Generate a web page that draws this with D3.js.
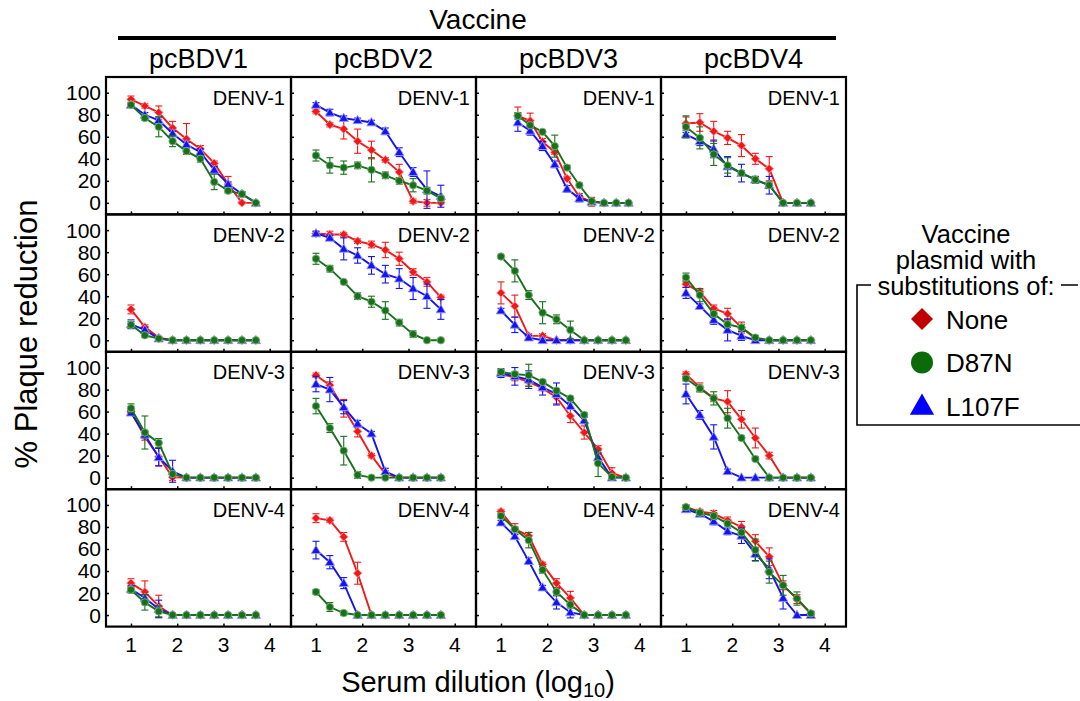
<!DOCTYPE html>
<html>
<head>
<meta charset="utf-8">
<script src="https://cdn.jsdelivr.net/npm/d3@7/dist/d3.min.js"></script>
<style>
  body { margin: 0; background: #fff; }
  text { font-family: "Liberation Sans", Arial, sans-serif; fill: #000; }
</style>
</head>
<body>
<div id="chart"></div>
<script>
// columns = vaccine, rows = challenge virus
const vaccines = ["pcBDV1", "pcBDV2", "pcBDV3", "pcBDV4"]
const viruses = ["DENV-1", "DENV-2", "DENV-3", "DENV-4"]
const dilutions = [1.0, 1.3, 1.6, 1.9, 2.2, 2.5, 2.8, 3.1, 3.4, 3.7]
const xTicks = [1, 2, 3, 4]
const yTicks = [0, 20, 40, 60, 80, 100]
const seriesNames = ["None", "D87N", "L107F"]

// % plaque reduction, indexed [virus][vaccine][dilution]
const noneMean = [
  [[94, 88, 82, 68, 58, 49, 36, 17, 0, 0], [83, 71, 67, 56, 48, 39, 28, 1.5, 0, 0], [79, 74.5, 55.5, 46, 22, 5.5, 1, 0, 0, 0], [72, 73, 65, 59, 52, 40, 31, 0, 0, 0]],
  [[28, 12, 2.4, 0, 0, 0, 0, 0, 0, 0], [97, 96, 96, 90, 87, 82, 74, 62, 53, 39], [43, 31, 4, 4, 0, 0, 0, 0, 0, 0], [51, 44, 29, 24, 11.5, 1.5, 0, 0, 0, 0]],
  [[60, 37, 19, 0.3, 0, 0, 0, 0, 0, 0], [93, 84, 63, 42, 20, 3.3, 0, 0, 0, 0], [94, 91, 87, 81, 73, 56, 41, 26, 4, 0], [94, 82, 72, 69, 53, 36, 20, 0, 0, 0]],
  [[29, 21, 8, 0, 0, 0, 0, 0, 0, 0], [88, 86, 71, 38, 0, 0, 0, 0, 0, 0], [94, 78, 72, 46, 29, 15.5, 0, 0, 0, 0], [98, 94, 92, 86, 80, 67, 53, 27, 14.5, 1]]
]
const noneErr = [
  [[3, 2, 6, 6, 14, 3, 2, 7, 1, 1], [2, 2, 9, 11, 8, 2, 7, 2, 3, 1], [8, 7, 3, 2, 2, 3, 4, 1, 0, 0], [6, 8, 9, 6, 10, 5, 11, 1, 0, 0]],
  [[4, 2, 1, 0, 0, 0, 0, 0, 0, 0], [2, 3, 2, 2, 3, 7, 6, 3, 4, 2], [10, 10, 2, 2, 0, 0, 0, 0, 0, 0], [3, 2, 3, 5, 5, 2, 0, 0, 0, 0]],
  [[2, 3, 8, 3, 0, 0, 0, 0, 0, 0], [2, 3, 8, 5, 2, 3, 0, 0, 0, 0], [2, 3, 4, 2, 6, 6, 6, 3, 5, 0], [2, 4, 3, 10, 8, 9, 3, 0, 0, 0]],
  [[4, 10, 10, 0, 0, 0, 0, 0, 0, 0], [4, 2, 4, 10, 0, 0, 0, 0, 0, 0], [2, 5, 3, 2, 4, 6, 0, 0, 0, 0], [2, 2, 3, 3, 5, 6, 8, 4, 4, 2]]
]
const d87nMean = [
  [[89, 77, 69, 56, 47, 40, 19, 11, 8, 0], [43, 34, 32, 34, 30, 25, 20, 16, 11, 4], [79, 70.5, 64.5, 51.5, 32, 16, 1.5, 0, 0, 0], [69, 59, 44, 34, 27, 21, 16, 0, 0, 0]],
  [[14, 4.5, 1.5, 0, 0, 0, 0, 0, 0, 0], [74, 65, 53, 40, 35, 27, 16, 5.5, 0, 0], [76, 63, 41, 25, 19, 9.4, 0, 0, 0, 0], [57, 41, 24, 14.5, 11.5, 2.4, 0, 0, 0, 0]],
  [[63, 41, 31.5, 3.3, 0, 0, 0, 0, 0, 0], [65, 45, 24.5, 2.4, 0, 0, 0, 0, 0, 0], [96, 94, 93, 87, 79, 72, 57, 13, 0.6, 0], [90, 81, 72, 54, 36, 17, 0, 0, 0, 0]],
  [[23, 11.5, 3.3, 0, 0, 0, 0, 0, 0, 0], [21, 7.3, 1.8, 0, 0, 0, 0, 0, 0, 0], [90, 78, 68, 41, 21, 9.4, 0, 0, 0, 0], [98, 93, 90, 83, 75, 59, 39, 27, 15, 1.5]]
]
const d87nErr = [
  [[1, 2, 9, 5, 2, 3, 7, 2, 2, 0], [5, 7, 6, 3, 11, 3, 3, 6, 3, 2], [3, 2, 2, 10, 2, 2, 1, 0, 0, 0], [10, 10, 10, 7, 2, 3, 3, 0, 0, 0]],
  [[3, 2, 1, 0, 0, 0, 0, 0, 0, 0], [5, 3, 1, 3, 5, 8, 3, 3, 0, 0], [1, 10, 4, 10, 4, 8, 0, 0, 0, 0], [4, 6, 3, 3, 3, 2, 0, 0, 0, 0]],
  [[4, 15, 4, 2, 0, 0, 0, 0, 0, 0], [7, 4, 13, 3, 0, 0, 0, 0, 0, 0], [2, 2, 10, 2, 2, 2, 2, 12, 1, 0], [2, 3, 6, 9, 2, 2, 0, 0, 0, 0]],
  [[3, 7, 5, 0, 0, 0, 0, 0, 0, 0], [2, 4, 2, 0, 0, 0, 0, 0, 0, 0], [2, 2, 7, 3, 3, 3, 0, 0, 0, 0], [2, 2, 3, 2, 3, 10, 10, 9, 6, 2]]
]
const l107fMean = [
  [[89, 80, 75, 63, 53, 46, 30, 17, 8, 0], [89, 82, 77, 75, 73, 65, 46, 28, 12, 6], [73, 65.5, 51.5, 35, 12.7, 3.9, 0.9, 0, 0, 0], [62, 56, 49, 33, 27, 21, 16, 0, 0, 0]],
  [[14.5, 9.4, 1.5, 0, 0, 0, 0, 0, 0, 0], [97, 93, 83, 77, 68, 60, 56, 47, 40, 28], [27, 14, 2.4, 0, 0, 0, 0, 0, 0, 0], [43, 31, 18.5, 9.4, 3.9, 0, 0, 0, 0, 0]],
  [[59, 39, 18.5, 5.8, 0, 0, 0, 0, 0, 0], [85, 80, 64, 49, 40, 5.5, 0, 0, 0, 0], [95, 92, 89, 82, 76, 65, 52, 18.5, 0, 0], [76, 57, 37, 5.8, 0, 0, 0, 0, 0, 0]],
  [[23.6, 15.5, 5.5, 0, 0, 0, 0, 0, 0, 0], [59, 48, 29, 0, 0, 0, 0, 0, 0, 0], [84, 71.5, 49, 25, 11.5, 2.4, 0, 0, 0, 0], [96, 92, 85, 76, 72, 55.5, 42, 15.5, 0, 0]]
]
const l107fErr = [
  [[1, 2, 3, 2, 2, 3, 3, 2, 2, 0], [2, 3, 2, 2, 2, 3, 4, 4, 17, 10], [8, 4, 4, 3, 3, 3, 1, 0, 0, 0], [2, 4, 8, 9, 8, 3, 8, 0, 0, 0]],
  [[4, 2, 1, 0, 0, 0, 0, 0, 0, 0], [2, 2, 10, 7, 8, 8, 9, 10, 11, 9], [2, 7, 2, 0, 0, 0, 0, 0, 0, 0], [5, 2, 4, 10, 4, 0, 0, 0, 0, 0]],
  [[2, 3, 8, 10, 0, 0, 0, 0, 0, 0], [7, 11, 6, 3, 2, 3, 0, 0, 0, 0], [4, 8, 8, 7, 10, 3, 3, 3, 0, 0], [9, 4, 11, 2, 0, 0, 0, 0, 0, 0]],
  [[3, 3, 8, 0, 0, 0, 0, 0, 0, 0], [8, 6, 5, 0, 0, 0, 0, 0, 0, 0], [2, 2, 3, 2, 6, 5, 0, 0, 0, 0], [2, 2, 3, 3, 7, 6, 9, 10, 0, 0]]
]

var width = 1080, height = 701
var gridLeft = 106, gridTop = 77, pw = 185, ph = 137.4

// line / marker colours, legend marker colours
var lineColor = ["#f01818", "#17701a", "#1414f0"]
var haloColor = ["#ff9a9a", "#7fb27f", "#9a9aff"]
var legendColor = ["#c00000", "#0b6b0b", "#0000ff"]
// drawn in this order: None, L107F, D87N on top
var drawOrder = [0, 2, 1]

var means = [noneMean, d87nMean, l107fMean]
var errs = [noneErr, d87nErr, l107fErr]

function markerPath(kind, s) {
  if (kind == 0) return "M0," + (-s) + "L" + s + ",0L0," + s + "L" + (-s) + ",0Z"
  if (kind == 1) return d3.symbol(d3.symbolCircle, Math.PI * s * s)()
  var h = s * 1.8
  return "M0," + (-h * 0.6) + "L" + (h * 0.58) + "," + (h * 0.42) + "L" + (-h * 0.58) + "," + (h * 0.42) + "Z"
}

var svg = d3.select("#chart").append("svg")
  .attr("width", width)
  .attr("height", height)

var yScale = d3.scaleLinear().domain([-10.5, 114.3]).range([ph, 0])

viruses.forEach((virus, r) => {
  vaccines.forEach((vac, c) => {
    // the pcBDV3 / DENV-1 panel was plotted on a wider x range in the original
    var xDomain = (r == 0 && c == 2) ? [-0.02, 4.49] : [0.46, 4.46]
    var xScale = d3.scaleLinear().domain(xDomain).range([0, pw])

    var g = svg.append("g")
      .attr("transform", "translate(" + (gridLeft + c * pw) + "," + (gridTop + r * ph) + ")")

    // inward ticks
    g.append("g")
      .call(d3.axisBottom(xScale).tickValues(xTicks).tickSize(-3).tickFormat(""))
      .attr("transform", "translate(0," + ph + ")")
      .call(a => a.select(".domain").remove())
      .selectAll("line").attr("stroke-width", 1.5)
    g.append("g")
      .call(d3.axisLeft(yScale).tickValues(yTicks).tickSize(-3).tickFormat(""))
      .call(a => a.select(".domain").remove())
      .selectAll("line").attr("stroke-width", 1.5)

    drawOrder.forEach(s => {
      var vals = means[s][r][c], ev = errs[s][r][c]
      var pts = dilutions.map((d, i) => ({ x: d, y: vals[i], e: ev[i] }))
      var sg = g.append("g")

      // error bars
      var eb = sg.selectAll(".err").data(pts.filter(p => p.e > 0)).enter().append("g")
        .attr("stroke", lineColor[s]).attr("stroke-width", 1.1)
      eb.append("line")
        .attr("x1", p => xScale(p.x)).attr("x2", p => xScale(p.x))
        .attr("y1", p => yScale(p.y + p.e)).attr("y2", p => yScale(p.y - p.e))
      eb.append("line")
        .attr("x1", p => xScale(p.x) - 3.5).attr("x2", p => xScale(p.x) + 3.5)
        .attr("y1", p => yScale(p.y + p.e)).attr("y2", p => yScale(p.y + p.e))
      eb.append("line")
        .attr("x1", p => xScale(p.x) - 3.5).attr("x2", p => xScale(p.x) + 3.5)
        .attr("y1", p => yScale(p.y - p.e)).attr("y2", p => yScale(p.y - p.e))

      sg.append("path")
        .datum(pts)
        .attr("fill", "none")
        .attr("stroke", lineColor[s])
        .attr("stroke-width", 1.9)
        .attr("d", d3.line().x(p => xScale(p.x)).y(p => yScale(p.y)))

      sg.selectAll(".pt").data(pts).enter().append("path")
        .attr("transform", p => "translate(" + xScale(p.x) + "," + yScale(p.y) + ")")
        .attr("d", markerPath(s, s == 0 ? 4.3 : (s == 1 ? 3.7 : 4.5)))
        .attr("fill", lineColor[s])
        .attr("stroke", haloColor[s])
        .attr("stroke-width", 0.9)
    })

    // frame
    g.append("rect")
      .attr("width", pw).attr("height", ph)
      .attr("fill", "none").attr("stroke", "#000").attr("stroke-width", 2.2)

    g.append("text")
      .attr("x", pw - 6).attr("y", 27.5)
      .attr("text-anchor", "end")
      .attr("font-size", "20px")
      .text(virus)

    // y tick labels on first column
    if (c == 0) {
      g.selectAll(".yl").data(yTicks).enter().append("text")
        .attr("x", -5).attr("y", d => yScale(d) + 7.5)
        .attr("text-anchor", "end")
        .attr("font-size", "21px")
        .text(d => d)
    }
    // x tick labels on last row
    if (r == viruses.length - 1) {
      g.selectAll(".xl").data(xTicks).enter().append("text")
        .attr("x", d => xScale(d)).attr("y", ph + 25)
        .attr("text-anchor", "middle")
        .attr("font-size", "21px")
        .text(d => d)
    }
  })
})

// column headers + "Vaccine" bar
vaccines.forEach((vac, c) => {
  svg.append("text")
    .attr("x", gridLeft + c * pw + pw / 2).attr("y", 68)
    .attr("text-anchor", "middle")
    .attr("font-size", "27px")
    .text(vac)
})
svg.append("line")
  .attr("x1", 118).attr("x2", 836).attr("y1", 38).attr("y2", 38)
  .attr("stroke", "#000").attr("stroke-width", 4)
svg.append("text")
  .attr("x", 478).attr("y", 29)
  .attr("text-anchor", "middle")
  .attr("font-size", "28px")
  .text("Vaccine")

// axis titles
var xt = svg.append("text")
  .attr("x", 478).attr("y", 692)
  .attr("text-anchor", "middle")
  .attr("font-size", "29px")
xt.append("tspan").text("Serum dilution (log")
xt.append("tspan").attr("font-size", "20px").attr("dy", 5).text("10")
xt.append("tspan").attr("dy", -5).text(")")

svg.append("text")
  .attr("transform", "translate(37,334) rotate(-90)")
  .attr("text-anchor", "middle")
  .attr("font-size", "31px")
  .text("% Plaque reduction")

// Legend
var lg = svg.append("g")
lg.append("path")
  .attr("d", "M871,285H857V425H1080M1061,285H1078")
  .attr("fill", "none").attr("stroke", "#000").attr("stroke-width", 1.6)
var legendTitle = ["Vaccine", "plasmid with", "substitutions of:"]
lg.selectAll(".lt").data(legendTitle).enter().append("text")
  .attr("x", 966).attr("y", (d, i) => 243 + i * 26)
  .attr("text-anchor", "middle")
  .attr("font-size", "25.5px")
  .text(d => d)

var items = lg.selectAll(".li").data(seriesNames).enter().append("g")
  .attr("transform", (d, i) => "translate(922," + (319 + i * 43.5) + ")")
items.append("path")
  .attr("d", (d, i) => markerPath(i, i == 1 ? 11 : (i == 0 ? 11 : 11.6)))
  .attr("fill", (d, i) => legendColor[i])
items.append("text")
  .attr("x", 24).attr("y", 9.5)
  .attr("font-size", "26px")
  .text(d => d)
</script>
</body>
</html>
